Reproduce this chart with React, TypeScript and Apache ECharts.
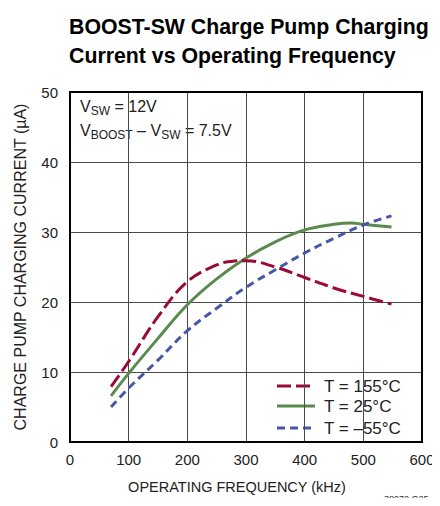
import React, { useEffect, useRef } from "react";
import * as echarts from "echarts";

const xTicks = [0, 100, 200, 300, 400, 500, 600];
const yTicks = [0, 10, 20, 30, 40, 50];

const freq155 = [70, 100, 150, 200, 250, 275, 300, 350, 400, 450, 500, 548];
const cur155 = [7.9, 11.5, 17.9, 22.9, 25.3, 25.8, 25.9, 25.0, 23.5, 22.0, 20.8, 19.7];

const freq25 = [70, 100, 150, 200, 250, 300, 350, 400, 450, 480, 500, 548];
const cur25 = [6.6, 9.8, 14.8, 19.6, 23.3, 26.3, 28.6, 30.3, 31.1, 31.3, 31.1, 30.7];

const freqM55 = [70, 100, 150, 200, 250, 300, 350, 400, 450, 500, 548];
const curM55 = [5.0, 7.7, 11.7, 15.9, 19.1, 22.1, 24.6, 27.0, 29.1, 31.0, 32.3];

const seriesNames = ["T = 155°C", "T = 25°C", "T = –55°C"];

const FONT = "'Liberation Sans', Arial, sans-serif";

export default function App() {
  const ref = useRef<HTMLDivElement>(null);
  useEffect(() => {
    if (!ref.current) return;
    const chart = echarts.init(ref.current, undefined, { renderer: "svg" });
    const zip = (xs: number[], ys: number[]) => xs.map((x, i) => [x, ys[i]]);
    chart.setOption({
      animation: false,
      textStyle: { fontFamily: FONT },
      title: {
        text: "BOOST-SW Charge Pump Charging\nCurrent vs Operating Frequency",
        left: 64,
        top: 7,
        textStyle: {
          fontFamily: FONT,
          fontWeight: "bold",
          fontSize: 21.3,
          lineHeight: 29,
          color: "#000",
        },
      },
      grid: { left: 70, right: 18, top: 92, bottom: 64 },
      xAxis: {
        type: "value",
        min: 0,
        max: 600,
        interval: 100,
        name: "OPERATING FREQUENCY (kHz)",
        nameLocation: "middle",
        nameGap: 37,
        nameTextStyle: { fontFamily: FONT, fontSize: 14.5, color: "#222", padding: [0, 18, 0, 0] },
        axisLine: { show: true, lineStyle: { color: "#000", width: 2 } },
        axisTick: { show: false },
        axisLabel: { fontFamily: FONT, fontSize: 15, color: "#222", margin: 10 },
        splitLine: { show: true, lineStyle: { color: "#4a4a4a", width: 1 } },
      },
      yAxis: {
        type: "value",
        min: 0,
        max: 50,
        interval: 10,
        name: "CHARGE PUMP CHARGING CURRENT (µA)",
        nameLocation: "middle",
        nameGap: 42,
        nameTextStyle: { fontFamily: FONT, fontSize: 16, color: "#222" },
        axisLine: { show: true, lineStyle: { color: "#000", width: 2 } },
        axisTick: { show: false },
        axisLabel: { fontFamily: FONT, fontSize: 15, color: "#222", margin: 12 },
        splitLine: { show: true, lineStyle: { color: "#4a4a4a", width: 1 } },
      },
      graphic: [
        {
          type: "rect",
          shape: { x: 70, y: 92, width: 352, height: 350 },
          style: { fill: "none", stroke: "#000", lineWidth: 2 },
          silent: true,
          z: 10,
        },
        {
          type: "text",
          x: 80,
          y: 96,
          style: {
            text: "{n|V}{s|SW}{n| = 12V}\n{n|V}{s|BOOST}{n| – V}{s|SW}{n| = 7.5V}",
            fontFamily: FONT,
            fill: "#222",
            rich: {
              n: { fontFamily: FONT, fontSize: 16, lineHeight: 24, verticalAlign: "top", padding: [2, 0, 0, 0] },
              s: { fontFamily: FONT, fontSize: 12, lineHeight: 24, verticalAlign: "top", padding: [9, 0, 0, 0] },
            },
          },
        },
        // legend
        {
          type: "line",
          shape: { x1: 277, y1: 386, x2: 315, y2: 386 },
          style: { stroke: "#9B0A37", lineWidth: 3, lineDash: [14, 5] },
        },
        {
          type: "line",
          shape: { x1: 277, y1: 406, x2: 315, y2: 406 },
          style: { stroke: "#5B8A4F", lineWidth: 3 },
        },
        {
          type: "line",
          shape: { x1: 277, y1: 428, x2: 315, y2: 428 },
          style: { stroke: "#4657A8", lineWidth: 3, lineDash: [8, 5] },
        },
        {
          type: "text",
          x: 324,
          y: 386,
          style: { text: seriesNames[0], fontFamily: FONT, fontSize: 17, fill: "#222", verticalAlign: "middle" },
        },
        {
          type: "text",
          x: 324,
          y: 406,
          style: { text: seriesNames[1], fontFamily: FONT, fontSize: 17, fill: "#222", verticalAlign: "middle" },
        },
        {
          type: "text",
          x: 324,
          y: 428,
          style: { text: seriesNames[2], fontFamily: FONT, fontSize: 17, fill: "#222", verticalAlign: "middle" },
        },
        {
          type: "text",
          x: 384,
          y: 494,
          z: 20,
          style: { text: "38972 G25", fontFamily: FONT, fontSize: 9, fill: "#333", verticalAlign: "top", align: "left" },
        },
      ],
      series: [
        {
          name: seriesNames[0],
          type: "line",
          smooth: 0.4,
          showSymbol: false,
          data: zip(freq155, cur155),
          lineStyle: { color: "#9B0A37", width: 3, type: [14, 5] },
          itemStyle: { color: "#9B0A37" },
          z: 3,
        },
        {
          name: seriesNames[1],
          type: "line",
          smooth: 0.4,
          showSymbol: false,
          data: zip(freq25, cur25),
          lineStyle: { color: "#5B8A4F", width: 3 },
          itemStyle: { color: "#5B8A4F" },
          z: 2,
        },
        {
          name: seriesNames[2],
          type: "line",
          smooth: 0.4,
          showSymbol: false,
          data: zip(freqM55, curM55),
          lineStyle: { color: "#4657A8", width: 3, type: [8, 5] },
          itemStyle: { color: "#4657A8" },
          z: 4,
        },
      ],
    });
    return () => chart.dispose();
  }, []);
  return <div ref={ref} style={{ width: 440, height: 506, margin: -8 }} />;
}
